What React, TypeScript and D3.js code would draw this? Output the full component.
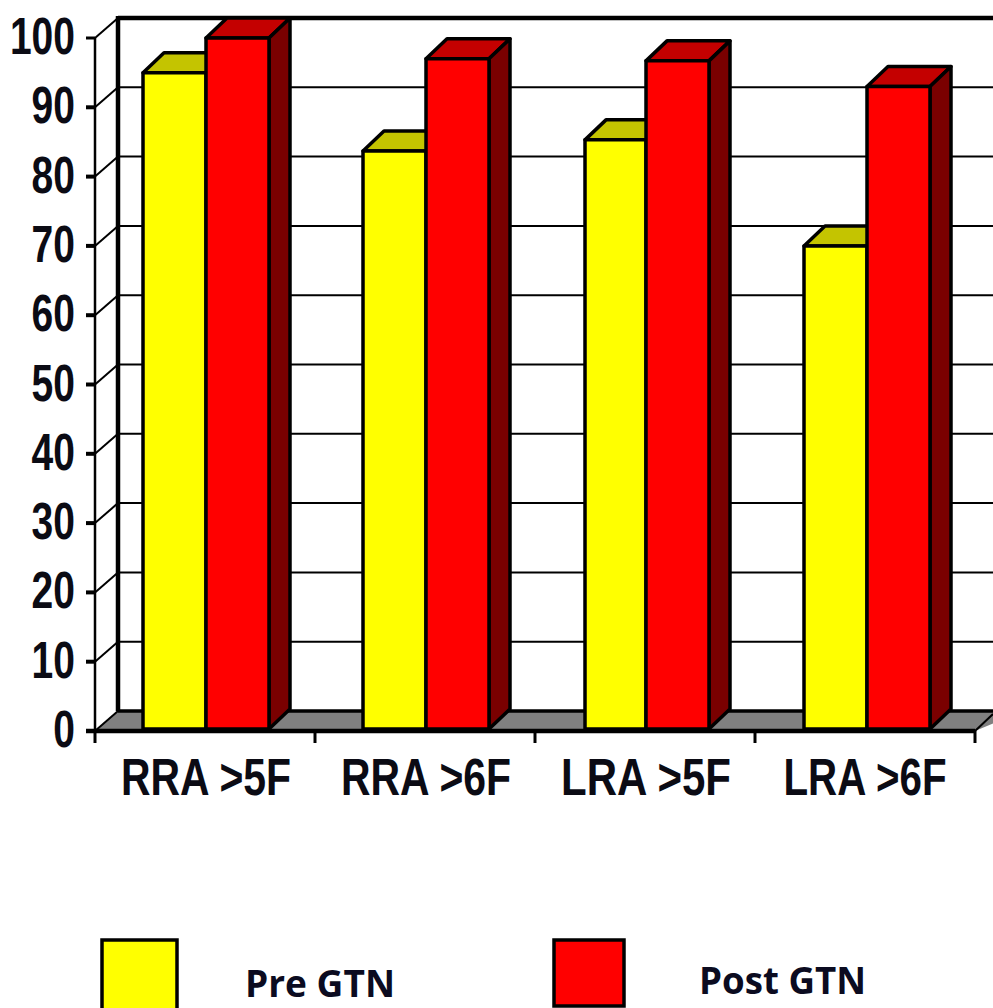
import React from "react";
import * as d3 from "d3";

const categories = ["RRA >5F", "RRA >6F", "LRA >5F", "LRA >6F"];
const preGTN = [95, 83.7, 85.3, 70];
const postGTN = [100, 97, 96.7, 93];
const yTicks = [0, 10, 20, 30, 40, 50, 60, 70, 80, 90, 100];
const legendLabels = ["Pre GTN", "Post GTN"];

const W = 993;
const H = 1008;
const DX = 21;
const DY = 20;
const y = d3.scaleLinear().domain([0, 100]).range([731, 38]);
const x = d3.scaleBand().domain(categories).range([95, 975]);
const BAR = 63;
const NARROW = "'Liberation Sans', Arial, sans-serif";

function Bar({ left, width, value, front, top, side }: { left: number; width: number; value: number; front: string; top: string; side: string }) {
  const yt = y(value);
  const yb = y(0) - 2;
  const r = left + width;
  const pts = (a: [number, number][]) => a.map((p) => p.join(",")).join(" ");
  return (
    <g stroke="#000" strokeWidth={3.5} strokeLinejoin="round">
      <polygon fill={top} points={pts([[left, yt], [left + DX, yt - DY], [r + DX, yt - DY], [r, yt]])} />
      <polygon fill={side} points={pts([[r, yt], [r + DX, yt - DY], [r + DX, yb - DY], [r, yb]])} />
      <rect x={left} y={yt} width={width} height={yb - yt} fill={front} />
    </g>
  );
}

export default function App() {
  const x0 = 95;
  const y0 = y(0);
  const y100 = y(100);
  const xEnd = W + 10;
  return (
    <svg width={W} height={H} viewBox={`0 0 ${W} ${H}`} style={{ position: "absolute", left: 0, top: 0, background: "#fff" }}>
      {/* floor */}
      <polygon points={`${x0},${y0} ${x0 + DX + 2},${y0 - DY} ${xEnd + 20},${y0 - DY} ${975},${y0}`} fill="#808080" />
      {/* back wall grid */}
      {yTicks.slice(1).map((t) => (
        <g key={t} stroke="#000" strokeWidth={t === 100 ? 4.5 : 2}>
          <line x1={x0 + DX + 2} x2={xEnd} y1={y(t) - DY} y2={y(t) - DY} />
          <line x1={x0} x2={x0 + DX + 2} y1={y(t)} y2={y(t) - DY} strokeWidth={2} />
        </g>
      ))}
      <line x1={x0 + DX + 2} x2={xEnd} y1={y0 - DY} y2={y0 - DY} stroke="#000" strokeWidth={3.5} />
      <line x1={118} x2={118} y1={y100 - DY - 2} y2={y0 - DY} stroke="#000" strokeWidth={4.5} />
      <line x1={x0} x2={x0 + DX + 2} y1={y0} y2={y0 - DY} stroke="#000" strokeWidth={2} />
      <line x1={975} x2={993} y1={y0} y2={y0 - 17} stroke="#000" strokeWidth={2} />
      {/* front axis */}
      <line x1={x0} x2={x0} y1={y100} y2={y0} stroke="#000" strokeWidth={2.5} />
      {yTicks.map((t) => (
        <line key={t} x1={86} x2={x0} y1={y(t)} y2={y(t)} stroke="#000" strokeWidth={t % 100 === 0 ? 3 : 4} />
      ))}
      {/* bars */}
      {categories.map((c, i) => {
        const cx = (x(c) as number) + x.bandwidth() / 2 + (i === 3 ? 2 : 1);
        const preWidth = i === 2 ? BAR - 2 : BAR;
        return (
          <g key={c}>
            <Bar left={cx - preWidth} width={preWidth} value={preGTN[i]} front="#ffff00" top="#c4c400" side="#808000" />
            <Bar left={cx} width={BAR} value={postGTN[i]} front="#ff0000" top="#c40000" side="#7a0000" />
          </g>
        );
      })}
      {/* base axis */}
      <line x1={86} x2={975} y1={y0} y2={y0} stroke="#000" strokeWidth={4.5} />
      {[...categories.map((c) => x(c) as number), 975].map((v) => (
        <line key={v} x1={v} x2={v} y1={y0} y2={y0 + 12} stroke="#000" strokeWidth={3} />
      ))}
      {/* tick labels */}
      {yTicks.map((t) => {
        const s = String(t);
        const w = s.length * 21.7;
        return (
          <text key={t} x={75 - w} y={y(t) + 16} textLength={w} lengthAdjust="spacingAndGlyphs"
            fontFamily={NARROW} fontWeight={700} fontSize={51} fill="#0b0b14">
            {s}
          </text>
        );
      })}
      {categories.map((c, i) => {
        const cx = (x(c) as number) + x.bandwidth() / 2;
        const w = i === 3 ? 163 : 170;
        return (
          <text key={c} x={cx + (i === 3 ? 0 : 1) - w / 2} y={795} textLength={w} lengthAdjust="spacingAndGlyphs"
            fontFamily={NARROW} fontWeight={700} fontSize={51} fill="#0b0b14">
            {c}
          </text>
        );
      })}
      {/* legend */}
      <rect x={102} y={940} width={75} height={72} fill="#ffff00" stroke="#000" strokeWidth={3.5} />
      <rect x={554} y={940} width={70} height={66} fill="#ff0000" stroke="#000" strokeWidth={3.5} />
      <text x={245} y={997} fontFamily="'Open Sans', sans-serif" fontWeight={700} fontSize={38} fill="#0b0b20" textLength={150} lengthAdjust="spacingAndGlyphs">{legendLabels[0]}</text>
      <text x={699} y={994} fontFamily="'Open Sans', sans-serif" fontWeight={700} fontSize={38} fill="#0b0b20" textLength={167} lengthAdjust="spacingAndGlyphs">{legendLabels[1]}</text>
    </svg>
  );
}
